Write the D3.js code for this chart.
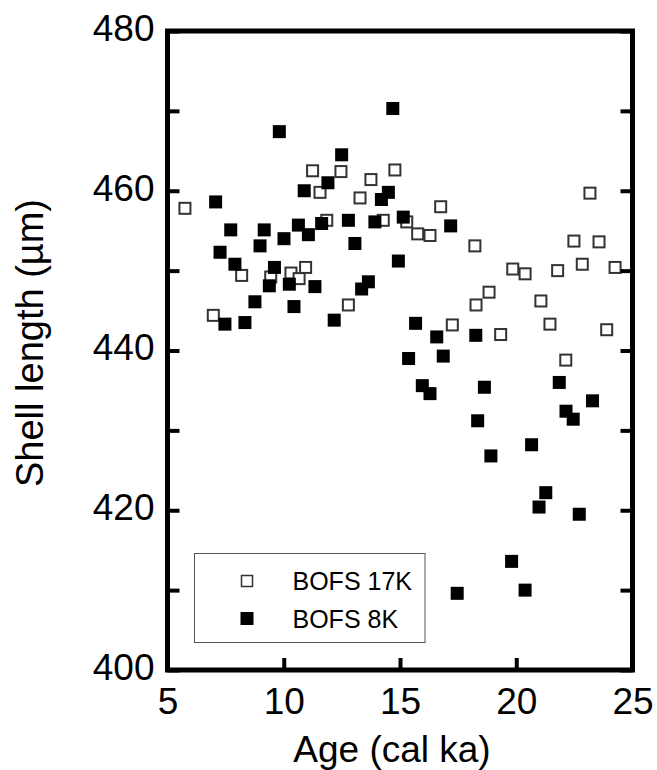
<!DOCTYPE html>
<html>
<head>
<meta charset="utf-8">
<script src="https://cdn.jsdelivr.net/npm/d3@7"></script>
<style>
  body { margin: 0; background: #fff; }
  text { font-family: "Liberation Sans", Arial, sans-serif; fill: #000; }
</style>
</head>
<body>
<div id="chart"></div>
<script>
// BOFS 17K (open squares)
const age17K = [5.75, 6.97, 8.19, 9.44, 10.31, 10.66, 10.94, 11.24, 11.56, 11.85, 12.46, 12.78, 13.28,
  13.75, 14.28, 14.78, 15.29, 15.76, 16.29, 16.75, 17.25, 18.22, 18.27, 18.83, 19.33, 19.85, 20.38,
  21.06, 21.45, 21.78, 22.13, 22.48, 22.84, 23.17, 23.56, 23.89, 24.25];
const len17K = [457.8, 444.4, 449.4, 449.2, 449.7, 449.0, 450.4, 462.5, 459.8, 456.3, 462.4, 445.7, 459.1,
  461.4, 456.3, 462.6, 456.1, 454.6, 454.4, 458.0, 443.2, 453.1, 445.7, 447.3, 442.0, 450.2, 449.6,
  446.2, 443.3, 450.0, 438.8, 453.7, 450.8, 459.7, 453.6, 442.6, 450.4];

// BOFS 8K (filled squares)
const age8K = [7.07, 7.26, 7.47, 7.72, 7.90, 8.33, 8.76, 8.98, 9.16, 9.38, 9.60, 9.81, 10.01, 10.24,
  10.44, 10.63, 10.88, 11.06, 11.34, 11.63, 11.90, 12.17, 12.49, 12.78, 13.06, 13.35, 13.64, 13.92,
  14.20, 14.50, 14.69, 14.93, 15.14, 15.37, 15.67, 15.96, 16.29, 16.58, 16.86, 17.18, 17.46, 18.26,
  18.34, 18.63, 18.91, 19.80, 20.38, 20.66, 20.98, 21.27, 21.85, 22.14, 22.45, 22.71, 23.28];
const len8K = [458.6, 452.3, 443.3, 455.1, 450.8, 443.5, 446.1, 453.1, 455.1, 448.1, 450.4, 467.4, 454.0, 448.3,
  445.5, 455.7, 460.0, 454.5, 448.0, 455.9, 461.0, 443.8, 464.5, 456.3, 453.4, 447.7, 448.6, 456.1,
  458.9, 459.8, 470.3, 451.2, 456.7, 439.0, 443.4, 435.6, 434.6, 441.7, 439.3, 455.6, 409.6, 441.9,
  431.2, 435.4, 426.8, 413.6, 410.0, 428.2, 420.4, 422.2, 436.0, 432.4, 431.4, 419.5, 433.7];

const xTicks = [5, 10, 15, 20, 25];
const yTicks = [400, 410, 420, 430, 440, 450, 460, 470, 480];
const seriesNames = ["BOFS 17K", "BOFS 8K"];

const width = 657, height = 770;
const margin = { left: 167.5, right: 24.5, top: 31, bottom: 100 };

const svg = d3.select("#chart").append("svg")
  .attr("width", width)
  .attr("height", height);

const x = d3.scaleLinear().domain([5, 25]).range([margin.left, width - margin.right]);
const y = d3.scaleLinear().domain([400, 480]).range([height - margin.bottom, margin.top]);

const pts17 = age17K.map((a, i) => ({ age: a, len: len17K[i] }));
const pts8 = age8K.map((a, i) => ({ age: a, len: len8K[i] }));

// open squares first, filled on top
svg.append("g").selectAll("rect")
  .data(pts17).enter().append("rect")
  .attr("x", d => x(d.age) - 5.5)
  .attr("y", d => y(d.len) - 5.5)
  .attr("width", 11).attr("height", 11)
  .attr("fill", "#fff")
  .attr("stroke", "#333")
  .attr("stroke-width", 2);

svg.append("g").selectAll("rect")
  .data(pts8).enter().append("rect")
  .attr("x", d => x(d.age) - 6.5)
  .attr("y", d => y(d.len) - 6.5)
  .attr("width", 13).attr("height", 13)
  .attr("fill", "#000");

// axes
const axisFont = 37;
const left = svg.append("g")
  .attr("transform", "translate(" + margin.left + ",0)")
  .call(d3.axisLeft(y).tickValues(yTicks).tickSize(-12).tickPadding(13)
    .tickFormat(d => d % 20 === 0 ? d : ""));
const right = svg.append("g")
  .attr("transform", "translate(" + (width - margin.right) + ",0)")
  .call(d3.axisRight(y).tickValues(yTicks).tickSize(-12).tickFormat(""));
const bottom = svg.append("g")
  .attr("transform", "translate(0," + (height - margin.bottom) + ")")
  .call(d3.axisBottom(x).tickValues(xTicks).tickSize(-12).tickPadding(18));

[left, right, bottom].forEach(g => {
  g.select(".domain").remove();
  g.selectAll(".tick line").attr("stroke", "#000").attr("stroke-width", 4);
  g.selectAll(".tick text")
    .style("font-family", "'Liberation Sans', Arial, sans-serif")
    .style("font-size", axisFont + "px")
    .attr("fill", "#000");
});
left.selectAll(".tick text").attr("dy", "0.25em");

// frame
svg.append("rect")
  .attr("x", margin.left).attr("y", margin.top)
  .attr("width", width - margin.left - margin.right)
  .attr("height", height - margin.top - margin.bottom)
  .attr("fill", "none")
  .attr("stroke", "#000")
  .attr("stroke-width", 5);

// titles
svg.append("text")
  .attr("x", 392).attr("y", 762)
  .attr("text-anchor", "middle")
  .style("font-size", "37px")
  .text("Age (cal ka)");

svg.append("text")
  .attr("transform", "translate(43,343) rotate(-90)")
  .attr("text-anchor", "middle")
  .style("font-size", "38px")
  .text("Shell length (µm)");

// legend
const legend = svg.append("g");
legend.append("rect")
  .attr("x", 194.5).attr("y", 553.5)
  .attr("width", 230.5).attr("height", 89)
  .attr("fill", "#fff")
  .attr("stroke", "#555")
  .attr("stroke-width", 1);

seriesNames.forEach((name, i) => {
  const cy = 581 + i * 37.5;
  if (i === 0) {
    legend.append("rect")
      .attr("x", 247 - 5.5).attr("y", cy - 5.5)
      .attr("width", 11).attr("height", 11)
      .attr("fill", "#fff").attr("stroke", "#333").attr("stroke-width", 1.5);
  } else {
    legend.append("rect")
      .attr("x", 247 - 6.5).attr("y", cy - 6.5)
      .attr("width", 13).attr("height", 13)
      .attr("fill", "#000");
  }
  legend.append("text")
    .attr("x", 292.5).attr("y", cy + 9)
    .style("font-size", "25px")
    .text(name);
});
</script>
</body>
</html>
